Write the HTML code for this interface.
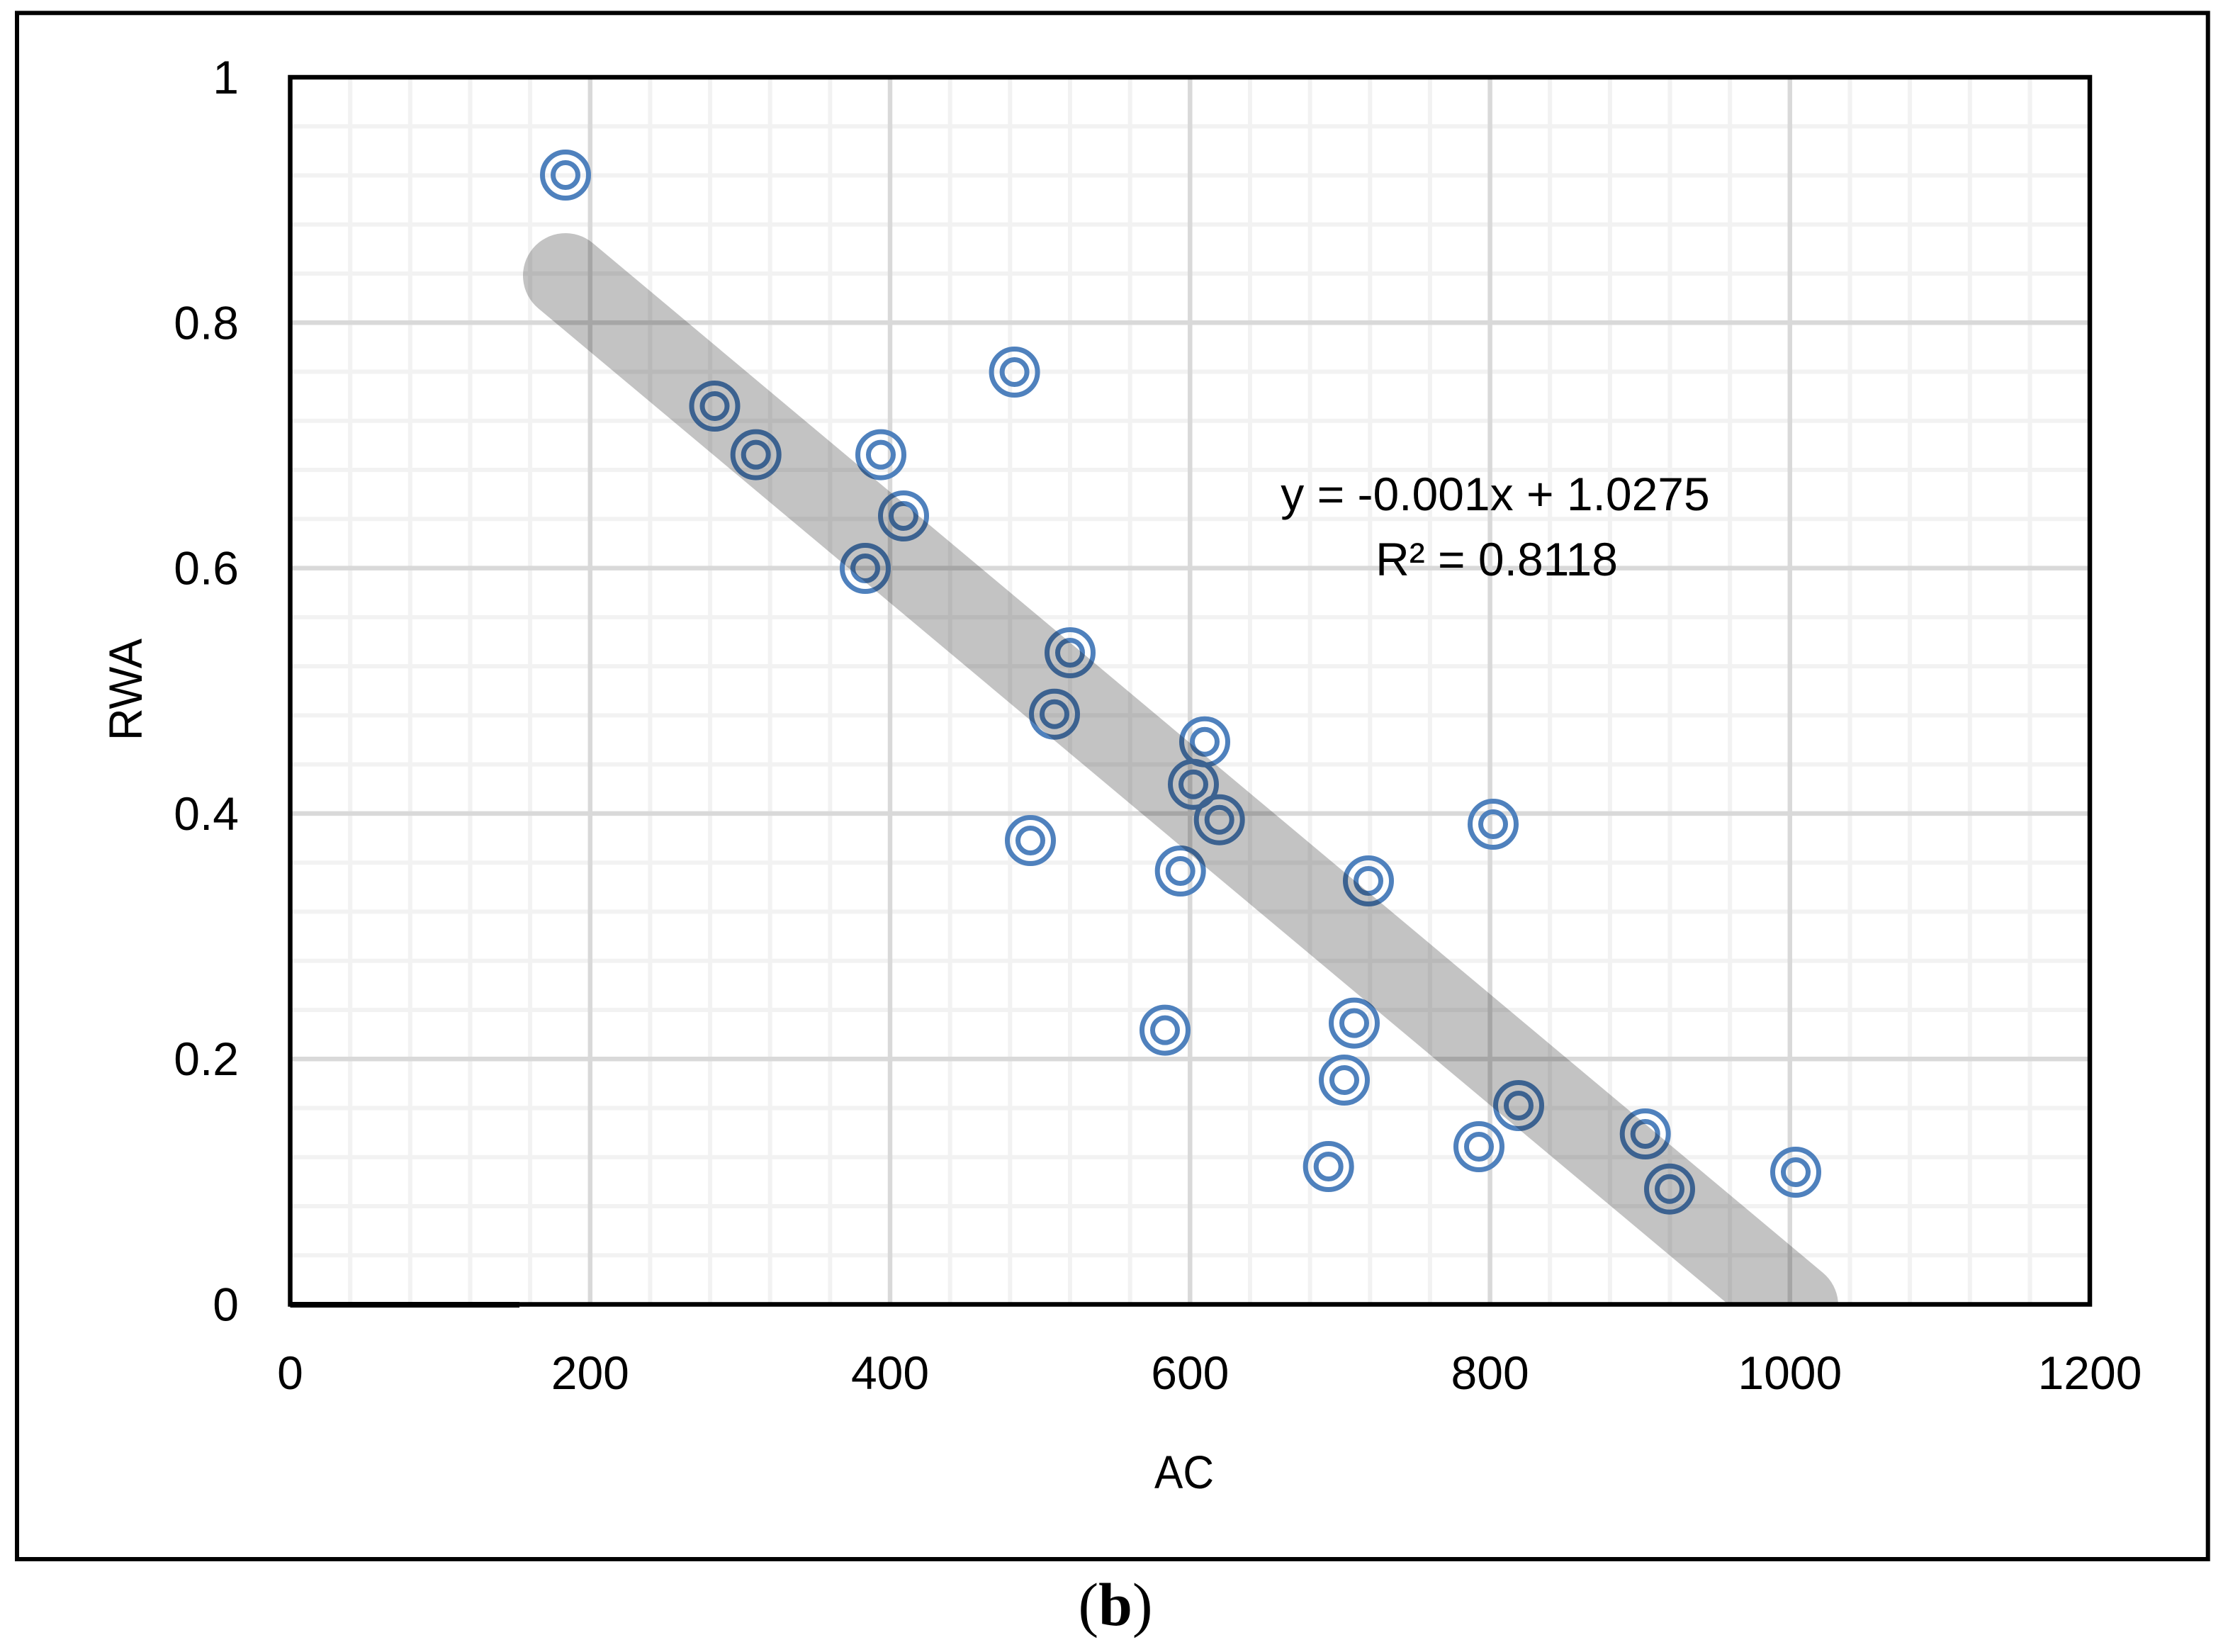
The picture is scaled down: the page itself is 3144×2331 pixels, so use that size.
<!DOCTYPE html>
<html><head><meta charset="utf-8"><style>
html,body{margin:0;padding:0;background:#fff;}
svg{display:block;}
</style></head><body>
<svg width="3144" height="2331" viewBox="0 0 3144 2331" xmlns="http://www.w3.org/2000/svg">
<rect x="0" y="0" width="3144" height="2331" fill="#fff"/>
<defs><clipPath id="pa"><rect x="409.5" y="109" width="2539.5" height="1731.5"/></clipPath></defs>
<!-- minor gridlines -->
<path stroke="#f2f2f2" stroke-width="6" fill="none" d="
M494.2 109V1840.5 M578.8 109V1840.5 M663.5 109V1840.5 M748.1 109V1840.5
M917.4 109V1840.5 M1002.1 109V1840.5 M1086.7 109V1840.5 M1171.4 109V1840.5
M1340.7 109V1840.5 M1425.3 109V1840.5 M1510 109V1840.5 M1594.7 109V1840.5
M1764 109V1840.5 M1848.6 109V1840.5 M1933.3 109V1840.5 M2017.9 109V1840.5
M2187.2 109V1840.5 M2271.9 109V1840.5 M2356.5 109V1840.5 M2441.2 109V1840.5
M2610.5 109V1840.5 M2695.1 109V1840.5 M2779.8 109V1840.5 M2864.5 109V1840.5
M409.5 1771.2H2949 M409.5 1702H2949 M409.5 1632.7H2949 M409.5 1563.5H2949
M409.5 1425H2949 M409.5 1355.7H2949 M409.5 1286.4H2949 M409.5 1217.2H2949
M409.5 1078.6H2949 M409.5 1009.4H2949 M409.5 940.1H2949 M409.5 870.9H2949
M409.5 732.3H2949 M409.5 663H2949 M409.5 593.8H2949 M409.5 524.5H2949
M409.5 386H2949 M409.5 316.8H2949 M409.5 247.5H2949 M409.5 178.3H2949"/>
<!-- major gridlines -->
<path stroke="#d9d9d9" stroke-width="6.5" fill="none" d="
M832.8 109V1840.5 M1256 109V1840.5 M1679.3 109V1840.5 M2102.6 109V1840.5 M2525.8 109V1840.5
M409.5 1494.2H2949 M409.5 1147.9H2949 M409.5 801.6H2949 M409.5 455.3H2949"/>
<!-- markers -->
<g fill="none" stroke="#4f81bd" stroke-width="7">
<g id="pts">
<circle cx="798" cy="247" r="32.5"/><circle cx="798" cy="247" r="17.5"/>
<circle cx="1008.5" cy="573" r="32.5"/><circle cx="1008.5" cy="573" r="17.5"/>
<circle cx="1066.7" cy="641.6" r="32.5"/><circle cx="1066.7" cy="641.6" r="17.5"/>
<circle cx="1243" cy="641.6" r="32.5"/><circle cx="1243" cy="641.6" r="17.5"/>
<circle cx="1275" cy="728" r="32.5"/><circle cx="1275" cy="728" r="17.5"/>
<circle cx="1221" cy="802" r="32.5"/><circle cx="1221" cy="802" r="17.5"/>
<circle cx="1431.6" cy="525" r="32.5"/><circle cx="1431.6" cy="525" r="17.5"/>
<circle cx="1510" cy="921" r="32.5"/><circle cx="1510" cy="921" r="17.5"/>
<circle cx="1488" cy="1007.7" r="32.5"/><circle cx="1488" cy="1007.7" r="17.5"/>
<circle cx="1454" cy="1186" r="32.5"/><circle cx="1454" cy="1186" r="17.5"/>
<circle cx="1700" cy="1046.7" r="32.5"/><circle cx="1700" cy="1046.7" r="17.5"/>
<circle cx="1684" cy="1106.7" r="32.5"/><circle cx="1684" cy="1106.7" r="17.5"/>
<circle cx="1720.7" cy="1156.7" r="32.5"/><circle cx="1720.7" cy="1156.7" r="17.5"/>
<circle cx="1665.7" cy="1229" r="32.5"/><circle cx="1665.7" cy="1229" r="17.5"/>
<circle cx="1931" cy="1243" r="32.5"/><circle cx="1931" cy="1243" r="17.5"/>
<circle cx="2107" cy="1163" r="32.5"/><circle cx="2107" cy="1163" r="17.5"/>
<circle cx="1644" cy="1453.6" r="32.5"/><circle cx="1644" cy="1453.6" r="17.5"/>
<circle cx="1911" cy="1443.6" r="32.5"/><circle cx="1911" cy="1443.6" r="17.5"/>
<circle cx="1897" cy="1524" r="32.5"/><circle cx="1897" cy="1524" r="17.5"/>
<circle cx="2143" cy="1560" r="32.5"/><circle cx="2143" cy="1560" r="17.5"/>
<circle cx="1874.7" cy="1646" r="32.5"/><circle cx="1874.7" cy="1646" r="17.5"/>
<circle cx="2087" cy="1618" r="32.5"/><circle cx="2087" cy="1618" r="17.5"/>
<circle cx="2321.7" cy="1600" r="32.5"/><circle cx="2321.7" cy="1600" r="17.5"/>
<circle cx="2356" cy="1677.7" r="32.5"/><circle cx="2356" cy="1677.7" r="17.5"/>
<circle cx="2534" cy="1654" r="32.5"/><circle cx="2534" cy="1654" r="17.5"/>
</g>
</g>
<!-- trendline band -->
<g clip-path="url(#pa)">
<line x1="798" y1="389" x2="2534" y2="1842" stroke="#000" stroke-opacity="0.235" stroke-width="120" stroke-linecap="round"/>
</g>
<!-- plot border -->
<rect x="409.5" y="109" width="2539.5" height="1731.5" fill="none" stroke="#000" stroke-width="6.5"/>
<line x1="409.5" y1="1841" x2="733" y2="1841" stroke="#000" stroke-width="8"/>
<!-- outer border -->
<rect x="24" y="18.3" width="3091.7" height="2181.7" fill="none" stroke="#000" stroke-width="6"/>
<!-- tick labels -->
<g font-family="'Liberation Sans', Arial, sans-serif" font-size="66" fill="#000">
<g text-anchor="end">
<text x="337" y="1863.5">0</text>
<text x="337" y="1517.2">0.2</text>
<text x="337" y="1170.9">0.4</text>
<text x="337" y="824.6">0.6</text>
<text x="337" y="478.3">0.8</text>
<text x="337" y="132">1</text>
</g>
<g text-anchor="middle">
<text x="409.5" y="1960">0</text>
<text x="832.8" y="1960">200</text>
<text x="1256" y="1960">400</text>
<text x="1679.3" y="1960">600</text>
<text x="2102.6" y="1960">800</text>
<text x="2525.8" y="1960">1000</text>
<text x="2949" y="1960">1200</text>
<text x="1671" y="2100" textLength="84" lengthAdjust="spacingAndGlyphs">AC</text>
<text x="2110" y="720">y = -0.001x + 1.0275</text>
<text x="2112" y="812">R² = 0.8118</text>
</g>
<text transform="translate(200,973) rotate(-90)" text-anchor="middle" textLength="144" lengthAdjust="spacingAndGlyphs">RWA</text>
</g>
<!-- caption -->
<text x="1574" y="2293" text-anchor="middle" font-family="'Liberation Serif', 'Times New Roman', serif" font-size="86" fill="#000">(<tspan font-weight="bold">b</tspan>)</text>
</svg>
</body></html>
